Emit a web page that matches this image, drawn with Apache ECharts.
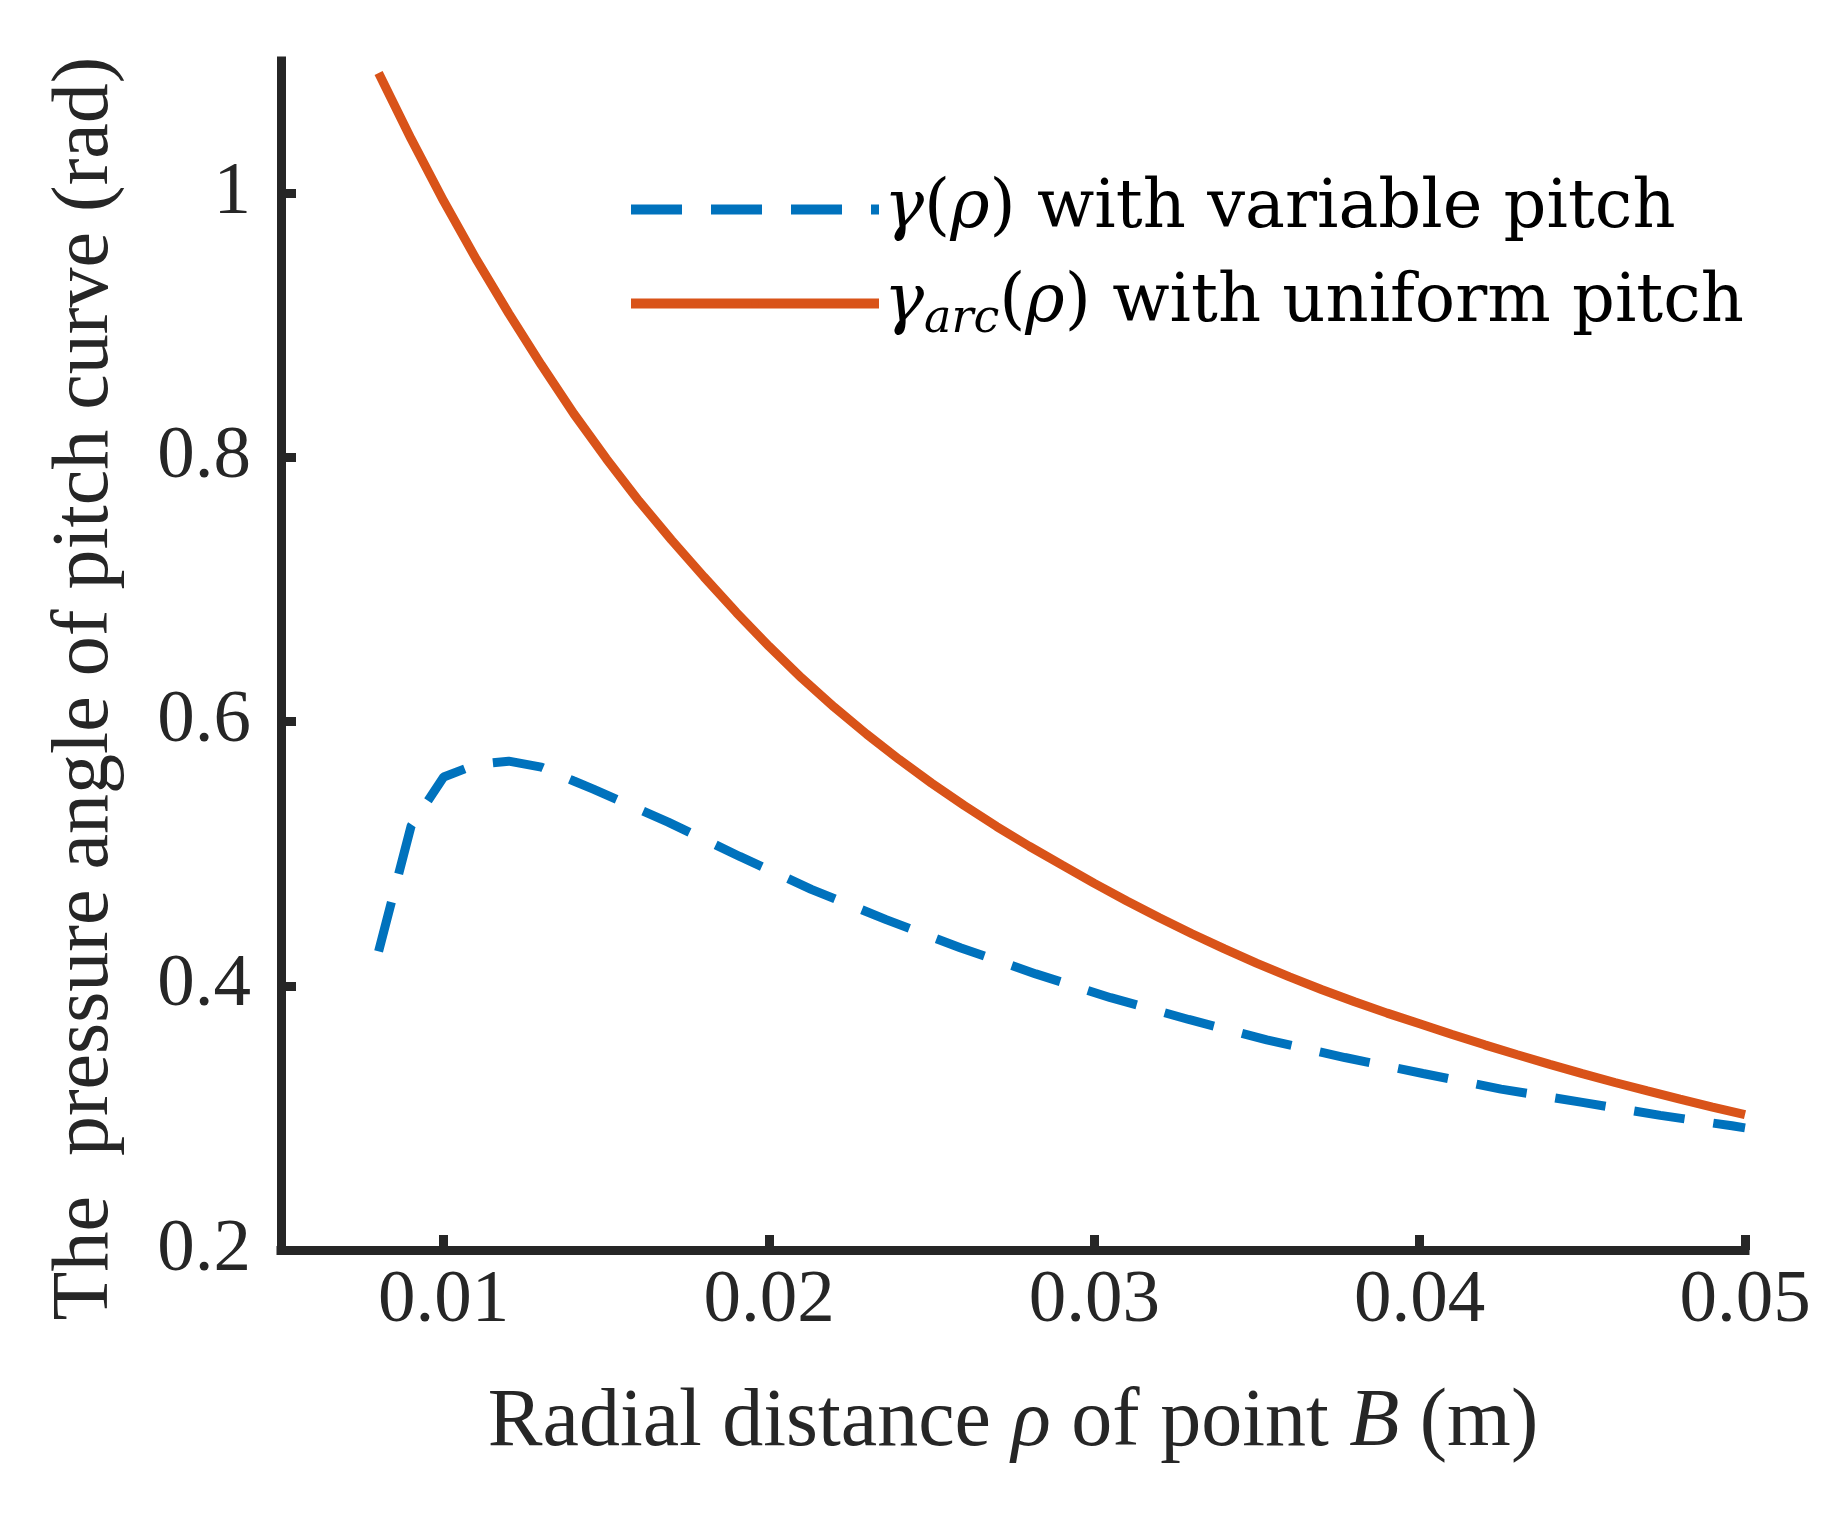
<!DOCTYPE html>
<html>
<head>
<meta charset="utf-8">
<script src="https://cdn.jsdelivr.net/npm/echarts@6/dist/echarts.min.js"></script>
<style>
html,body{margin:0;padding:0;background:#fff;}
#chart{width:1828px;height:1525px;}
</style>
</head>
<body>
<div id="chart"></div>
<script>
// ---- data ----
const blueX = [0.008,0.009,0.010,0.011,0.012,0.013,0.014,0.0146,0.0169,0.0191,0.0213,0.0236,0.0259,0.0282,0.0305,0.0329,0.0353,0.0377,0.0401,0.0425,0.0450,0.0474,0.0496,0.050];
const blueY = [0.426,0.521,0.558,0.5675,0.570,0.5655,0.555,0.5488,0.5239,0.4979,0.4730,0.4501,0.4286,0.4090,0.3910,0.3745,0.3591,0.3457,0.3336,0.3218,0.3117,0.3019,0.2940,0.2924];
const redX = [0.008,0.009,0.010,0.011,0.012,0.013,0.014,0.015,0.016,0.017,0.018,0.019,0.020,0.021,0.022,0.023,0.024,0.025,0.026,0.027,0.028,0.029,0.030,0.031,0.032,0.033,0.034,0.035,0.036,0.037,0.038,0.039,0.040,0.041,0.042,0.043,0.044,0.045,0.046,0.047,0.048,0.049,0.050];
const redY = [1.091,1.041,0.994,0.950,0.909,0.870,0.833,0.799,0.767,0.7375,0.7095,0.6825,0.657,0.633,0.611,0.5905,0.5713,0.5533,0.5364,0.5205,0.5056,0.4915,0.4775,0.4642,0.4515,0.4394,0.4279,0.4170,0.4067,0.3970,0.3879,0.3793,0.3712,0.3631,0.3553,0.3478,0.3405,0.3335,0.3268,0.3204,0.3142,0.3082,0.3024];
const xTicks = [0.01,0.02,0.03,0.04,0.05];
const yTicks = [0.2,0.4,0.6,0.8,1];
const seriesNames = ['gamma variable', 'gamma arc'];

const zip = (xs, ys) => xs.map((x, i) => [x, ys[i]]);

const axisColor = '#262626';
const tickFont = 'Liberation Serif';
const chart = echarts.init(document.getElementById('chart'), null, {renderer: 'canvas'});

const legendRich = {
  it: {fontFamily: 'DejaVu Serif', fontStyle: 'italic', fontSize: 67, lineHeight: 80, color: '#000'},
  n: {fontFamily: 'DejaVu Serif', fontSize: 67, lineHeight: 80, color: '#000'},
  sub: {fontFamily: 'DejaVu Serif', fontStyle: 'italic', fontSize: 46, lineHeight: 44, verticalAlign: 'bottom', color: '#000'}
};

chart.setOption({
  animation: false,
  backgroundColor: '#fff',
  grid: {left: 281, right: 83, top: 61, bottom: 275, containLabel: false, outerBoundsMode: 'none'},
  legend: {
    show: true,
    orient: 'vertical',
    left: 621,
    top: 171,
    itemWidth: 248,
    itemHeight: 10,
    itemGap: 27,
    data: seriesNames,
    lineStyle: {width: 10},
    formatter: function (name) {
      if (name === seriesNames[0]) return '{it|γ}{n|(}{it|ρ}{n|) with variable pitch}';
      return '{it|γ}{sub|arc}{n|(}{it|ρ}{n|) with uniform pitch}';
    },
    textStyle: {rich: legendRich}
  },
  xAxis: {
    type: 'value',
    min: 0.005,
    max: 0.05,
    name: '{n|Radial distance }{i|ρ}{n| of point }{i|B}{n| (m)}',
    nameLocation: 'middle',
    nameGap: 132,
    nameTextStyle: {
      rich: {
        n: {fontFamily: tickFont, fontSize: 82, color: axisColor},
        i: {fontFamily: tickFont, fontSize: 82, fontStyle: 'italic', color: axisColor}
      }
    },
    axisLine: {show: true, onZero: false, lineStyle: {color: axisColor, width: 9, cap: 'square'}},
    axisTick: {show: true, inside: true, length: 15, customValues: xTicks, lineStyle: {color: axisColor, width: 9}},
    axisLabel: {show: true, customValues: xTicks, margin: 14, fontFamily: tickFont, fontSize: 75, color: axisColor,
      formatter: v => v.toFixed(2)},
    splitLine: {show: false}
  },
  yAxis: {
    type: 'value',
    min: 0.2,
    max: 1.1,
    name: 'The  pressure angle of pitch curve (rad)',
    nameLocation: 'middle',
    nameGap: 155,
    nameTextStyle: {fontFamily: tickFont, fontSize: 80, color: axisColor, padding: [0, 66, 0, 0]},
    axisLine: {show: true, onZero: false, lineStyle: {color: axisColor, width: 9, cap: 'square'}},
    axisTick: {show: true, inside: true, length: 15, customValues: yTicks, lineStyle: {color: axisColor, width: 9}},
    axisLabel: {show: true, customValues: yTicks, margin: 30, fontFamily: tickFont, fontSize: 75, color: axisColor,
      formatter: v => (v === 1 ? '1' : String(v))},
    splitLine: {show: false}
  },
  series: [
    {
      name: seriesNames[0],
      type: 'line',
      data: zip(blueX, blueY),
      showSymbol: false,
      symbol: 'none',
      smooth: false,
      color: '#0072BD',
      lineStyle: {color: '#0072BD', width: 9, type: [51, 29], cap: 'butt'}
    },
    {
      name: seriesNames[1],
      type: 'line',
      data: zip(redX, redY),
      showSymbol: false,
      symbol: 'none',
      smooth: false,
      color: '#D95319',
      lineStyle: {color: '#D95319', width: 9, type: 'solid'}
    }
  ]
});
</script>
</body>
</html>
